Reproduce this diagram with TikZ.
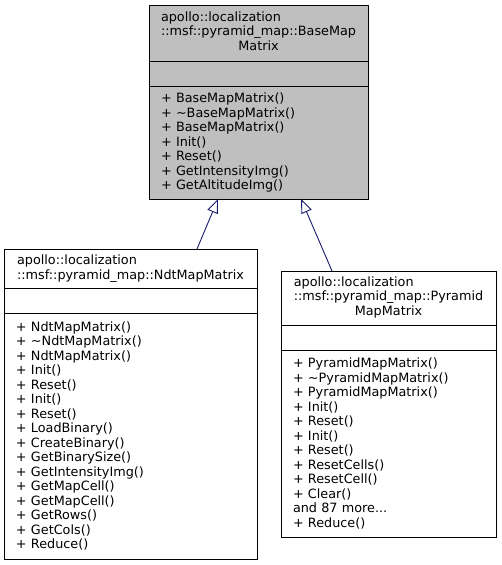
\documentclass[tikz,border=0pt]{standalone}
\usepackage{fontspec}
\setmainfont{DejaVu Sans}
\usetikzlibrary{arrows.meta}
\usetikzlibrary{positioning}
\definecolor{edgeblue}{RGB}{25,25,112}
\tikzstyle{part} = [rectangle, draw=black, line width=1pt, outer sep=0pt, inner xsep=12pt, inner ysep=0pt, font=\fontsize{12.8}{14.5}\selectfont]
\tikzstyle{base} = [part, fill=black!25]
\tikzstyle{derived} = [part, fill=white]
\tikzstyle{arrow} = [edgeblue, line width=0.9pt, -{Triangle[open, length=14pt, width=11pt]}]

\begin{document}
\begin{tikzpicture}[x=1pt, y=-1pt]
\useasboundingbox (0,0) rectangle (501,565);

% base class
\node (basetitle) [base, anchor=north west, minimum width=219pt, minimum height=56pt, align=center] at (149,5) {\begin{tabular}{@{}l@{}}apollo::localization\\::msf::pyramid\_map::BaseMap\\\multicolumn{1}{@{}c@{}}{Matrix}\end{tabular}};
\node (baseattr) [base, below=0pt of basetitle, minimum width=219pt, minimum height=25pt] {};
\node (basemethods) [base, below=0pt of baseattr, text width=195pt, minimum height=113pt, align=left] {+ BaseMapMatrix()\\+ \textasciitilde BaseMapMatrix()\\+ BaseMapMatrix()\\+ Init()\\+ Reset()\\+ GetIntensityImg()\\+ GetAltitudeImg()};

% ndt map matrix
\node (ndttitle) [derived, anchor=north west, minimum width=253pt, minimum height=39pt, align=left] at (4,249) {apollo::localization\\::msf::pyramid\_map::NdtMapMatrix};
\node (ndtattr) [derived, below=0pt of ndttitle, minimum width=253pt, minimum height=25pt] {};
\node (ndtmethods) [derived, below=0pt of ndtattr, text width=229pt, minimum height=246pt, align=left] {+ NdtMapMatrix()\\+ \textasciitilde NdtMapMatrix()\\+ NdtMapMatrix()\\+ Init()\\+ Reset()\\+ Init()\\+ Reset()\\+ LoadBinary()\\+ CreateBinary()\\+ GetBinarySize()\\+ GetIntensityImg()\\+ GetMapCell()\\+ GetMapCell()\\+ GetRows()\\+ GetCols()\\+ Reduce()};

% pyramid map matrix
\node (pyrtitle) [derived, anchor=north west, minimum width=215pt, minimum height=54pt, align=center] at (281,271) {\begin{tabular}{@{}l@{}}apollo::localization\\::msf::pyramid\_map::Pyramid\\\multicolumn{1}{@{}c@{}}{MapMatrix}\end{tabular}};
\node (pyrattr) [derived, below=0pt of pyrtitle, minimum width=215pt, minimum height=25pt] {};
\node (pyrmethods) [derived, below=0pt of pyrattr, text width=191pt, minimum height=187pt, align=left] {+ PyramidMapMatrix()\\+ \textasciitilde PyramidMapMatrix()\\+ PyramidMapMatrix()\\+ Init()\\+ Reset()\\+ Init()\\+ Reset()\\+ ResetCells()\\+ ResetCell()\\+ Clear()\\and 87 more...\\+ Reduce()};

\draw [arrow] ([xshift=66.5pt]ndttitle.north) -- ([xshift=-40.5pt]basemethods.south);
\draw [arrow] ([xshift=-56.5pt]pyrtitle.north) -- ([xshift=42.5pt]basemethods.south);

\end{tikzpicture}
\end{document}
